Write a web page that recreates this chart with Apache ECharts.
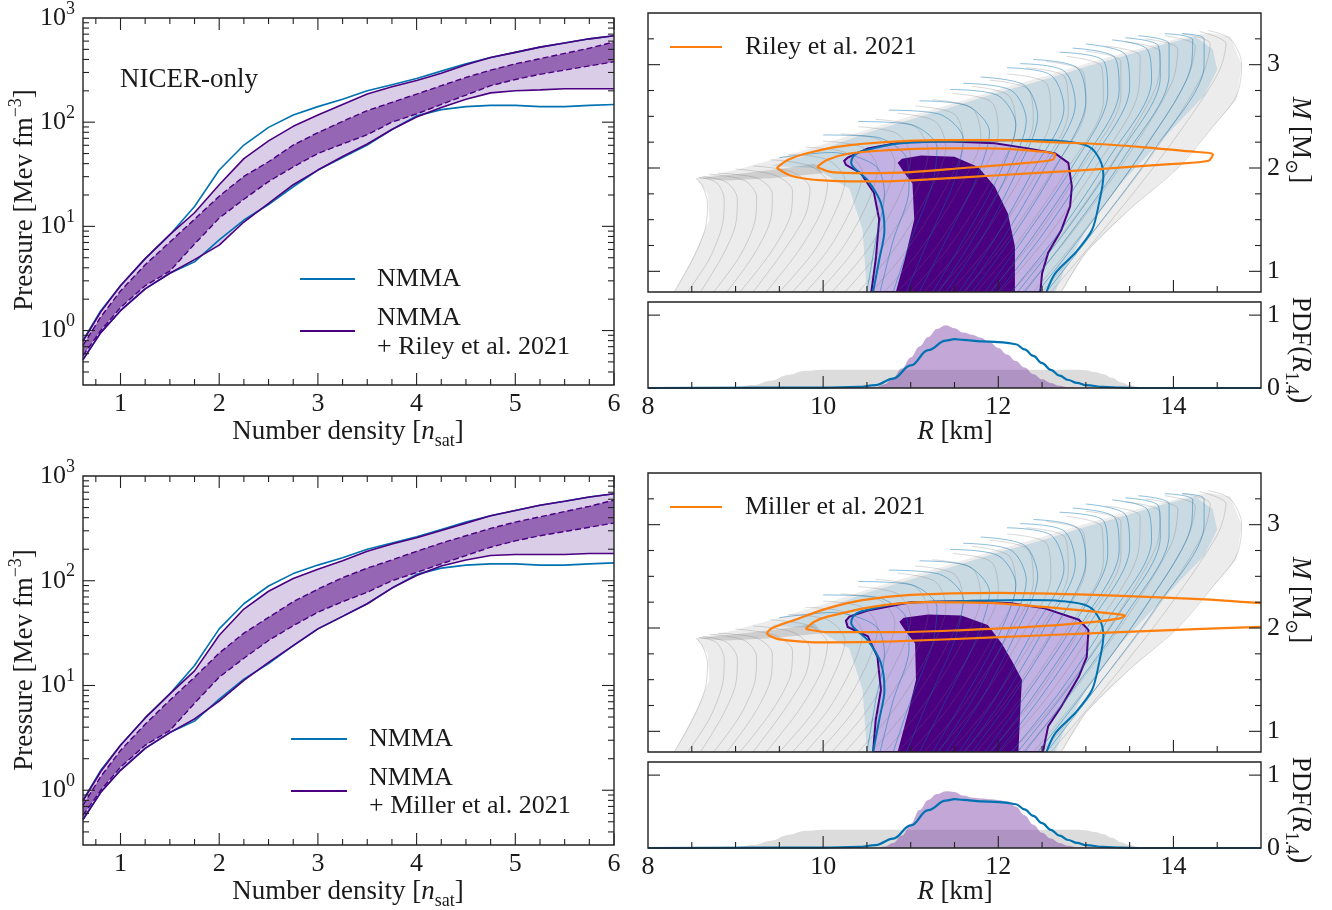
<!DOCTYPE html>
<html lang="en">
<head>
<meta charset="UTF-8">
<title>NMMA NICER</title>
<script src="https://cdn.jsdelivr.net/npm/echarts@6.0.0/dist/echarts.min.js"></script>
<style>html,body{margin:0;background:#fff}</style>
</head>
<body>
<div id="main" style="width:1332px;height:910px;"></div>
<script type="text/javascript">

// ---------- equation of state panels (pressure vs number density) ----------
var nDens = [0.62,0.8,1.0,1.25,1.5,1.75,2.0,2.25,2.5,2.75,3.0,3.25,3.5,3.75,4.0,4.25,4.5,4.75,5.0,5.25,5.5,5.75,6.0];

var nmmaHi = [0.81,1.55,2.69,4.90,8.32,15.5,34.7,60.3,89.1,117,141,166,200,229,263,309,363,417,468,525,575,631,676];
var nmmaLo = [0.525,0.955,1.55,2.51,3.55,4.57,7.41,11.5,16.2,24.0,34.7,45.7,60.3,85.1,115,132,141,145,145,141,141,145,148];

var rileyHi95 = [0.79,1.51,2.69,4.90,8.32,13.5,25.1,44.7,66.1,91.2,117,148,186,219,251,295,355,417,468,525,575,631,676];
var rileyHi68 = [0.72,1.35,2.40,4.27,7.08,11.7,19.5,30.2,41.7,60.3,79.4,102,129,155,186,224,269,316,363,407,457,513,589];
var rileyLo68 = [0.575,1.0,1.66,2.69,3.72,6.76,12.0,18.2,26.9,37.2,50.1,61.7,75.9,100,120,148,182,224,257,288,316,347,380];
var rileyLo95 = [0.525,0.955,1.55,2.51,3.55,4.79,6.61,11.0,16.6,25.1,34.7,46.8,61.7,85.1,112,138,166,191,200,204,209,209,209];

var millerHi95 = [0.79,1.51,2.69,4.90,8.32,13.8,30.2,53.7,79.4,105,129,155,191,224,257,302,355,417,468,525,575,631,676];
var millerHi68 = [0.72,1.35,2.40,4.27,7.24,12.0,20.4,31.6,44.7,63.1,83.2,107,132,158,191,229,269,316,363,407,457,513,589];
var millerLo68 = [0.575,1.0,1.66,2.69,3.72,6.76,12.0,18.2,26.9,37.2,50.1,63.1,77.6,100,120,145,174,209,240,269,295,324,355];
var millerLo95 = [0.525,0.955,1.55,2.51,3.55,4.79,7.08,11.2,16.6,24.0,34.7,45.7,60.3,85.1,112,138,158,174,178,178,178,182,182];

// ---------- mass-radius panels ([R km, M Msun]) ----------
var grayEnvelope = [[8.3,0.8],[8.55,1.2],[8.7,1.5],[8.68,1.75],[8.55,1.9],[9.0,1.98],[9.5,2.1],[10.0,2.23],[10.5,2.37],[11.0,2.5],[11.5,2.63],[12.0,2.76],[12.5,2.88],[13.0,3.01],[13.5,3.13],[14.0,3.24],[14.4,3.31],[14.65,3.27],[14.78,3.0],[14.72,2.66],[14.45,2.4],[14.05,2.0],[13.5,1.6],[13.0,1.18],[12.72,0.8]];
var grayStreak = [[8.55,1.9],[9.0,1.94],[9.5,1.99],[9.9,2.04],[10.0,1.95],[9.4,1.9],[8.9,1.88]];
var grayCurves = [
  [[8.3,0.8],[8.5,1.1],[8.65,1.4],[8.68,1.65],[8.62,1.83],[8.55,1.9]],
  [[8.45,0.8],[8.7,1.12],[8.85,1.45],[8.87,1.7],[8.78,1.86],[8.58,1.91]],
  [[8.6,0.8],[8.85,1.15],[9.0,1.45],[9.02,1.7],[8.9,1.86],[8.62,1.92]],
  [[8.75,0.8],[9.05,1.15],[9.22,1.48],[9.24,1.72],[9.1,1.88],[8.7,1.94]],
  [[8.9,0.8],[9.2,1.15],[9.4,1.5],[9.42,1.75],[9.25,1.9],[8.8,1.95]],
  [[9.05,0.8],[9.4,1.18],[9.62,1.52],[9.65,1.78],[9.45,1.93],[9.0,1.99]],
  [[9.2,0.8],[9.55,1.2],[9.8,1.55],[9.85,1.8],[9.65,1.96],[9.2,2.02]],
  [[9.35,0.8],[9.72,1.2],[9.98,1.58],[10.05,1.85],[9.85,2.02],[9.4,2.08]],
  [[9.5,0.8],[9.9,1.2],[10.15,1.6],[10.25,1.88],[10.05,2.08],[9.6,2.13]],
  [[9.65,0.8],[10.05,1.2],[10.33,1.62],[10.45,1.95],[10.25,2.15],[9.8,2.2]],
  [[9.8,0.8],[10.2,1.2],[10.5,1.65],[10.62,2.0],[10.45,2.2],[10.0,2.26]],
  [[9.95,0.8],[10.35,1.2],[10.68,1.68],[10.82,2.05],[10.65,2.27],[10.2,2.33]],
  [[10.1,0.8],[10.5,1.2],[10.85,1.7],[11.0,2.1],[10.85,2.33],[10.4,2.4]],
  [[10.25,0.8],[10.65,1.2],[11.03,1.72],[11.2,2.15],[11.05,2.4],[10.6,2.47]],
  [[10.4,0.8],[10.8,1.2],[11.2,1.75],[11.4,2.2],[11.28,2.45],[10.85,2.53]],
  [[10.55,0.8],[10.95,1.2],[11.38,1.78],[11.6,2.25],[11.5,2.52],[11.05,2.6]],
  [[10.7,0.8],[11.1,1.2],[11.55,1.8],[11.8,2.3],[11.7,2.58],[11.25,2.66]],
  [[10.85,0.8],[11.28,1.22],[11.72,1.82],[12.0,2.35],[11.92,2.64],[11.48,2.72]],
  [[11.0,0.8],[11.45,1.25],[11.9,1.85],[12.2,2.4],[12.12,2.7],[11.7,2.79]],
  [[11.15,0.8],[11.6,1.25],[12.08,1.88],[12.4,2.45],[12.34,2.76],[11.9,2.85]],
  [[11.3,0.8],[11.75,1.25],[12.25,1.9],[12.6,2.5],[12.55,2.82],[12.1,2.91]],
  [[11.45,0.8],[11.9,1.25],[12.42,1.92],[12.8,2.55],[12.76,2.88],[12.32,2.97]],
  [[11.6,0.8],[12.05,1.25],[12.6,1.95],[13.0,2.6],[12.97,2.93],[12.55,3.03]],
  [[11.75,0.8],[12.22,1.28],[12.78,1.98],[13.2,2.65],[13.18,2.98],[12.78,3.08]],
  [[11.9,0.8],[12.4,1.3],[12.95,2.0],[13.4,2.7],[13.4,3.03],[13.0,3.13]],
  [[12.02,0.8],[12.55,1.32],[13.12,2.02],[13.6,2.74],[13.62,3.08],[13.22,3.18]],
  [[12.15,0.8],[12.7,1.33],[13.3,2.05],[13.8,2.78],[13.85,3.12],[13.45,3.22]],
  [[12.28,0.8],[12.82,1.35],[13.45,2.08],[13.98,2.82],[14.05,3.15],[13.68,3.25]],
  [[12.4,0.8],[12.95,1.36],[13.6,2.1],[14.15,2.85],[14.25,3.18],[13.9,3.28]],
  [[12.5,0.8],[13.08,1.38],[13.75,2.12],[14.32,2.88],[14.42,3.2],[14.1,3.3]],
  [[12.6,0.8],[13.2,1.4],[13.9,2.15],[14.5,2.9],[14.6,3.2],[14.3,3.32]],
  [[12.72,0.8],[13.0,1.18],[13.5,1.6],[14.05,2.0],[14.45,2.4],[14.72,2.7],[14.78,3.0],[14.65,3.25],[14.4,3.33]]
];
var blueEnvelope = [[10.5,0.8],[10.45,1.4],[10.3,1.8],[9.9,2.0],[9.4,2.02],[9.8,2.12],[10.5,2.34],[11.0,2.47],[11.5,2.6],[12.0,2.73],[12.5,2.85],[13.0,2.98],[13.5,3.1],[13.9,3.2],[14.25,3.27],[14.45,3.15],[14.5,2.95],[14.35,2.7],[13.9,2.3],[13.4,1.85],[13.0,1.4],[12.75,1.0],[12.65,0.8]];
var blueCurves = [
  [[10.5,0.8],[10.6,1.3],[10.7,1.75],[10.6,2.02],[10.1,2.15],[9.5,2.1]],
  [[10.65,0.8],[10.8,1.3],[10.98,1.8],[10.95,2.1],[10.6,2.3],[10.0,2.32]],
  [[10.8,0.8],[11.0,1.3],[11.25,1.85],[11.3,2.2],[11.0,2.42],[10.4,2.45]],
  [[10.95,0.8],[11.2,1.3],[11.5,1.88],[11.6,2.28],[11.33,2.52],[10.75,2.56]],
  [[11.1,0.8],[11.4,1.3],[11.75,1.9],[11.9,2.35],[11.65,2.6],[11.1,2.65]],
  [[11.25,0.8],[11.6,1.3],[12.0,1.92],[12.2,2.42],[12.0,2.7],[11.45,2.76]],
  [[11.32,0.8],[11.7,1.3],[12.1,1.94],[12.32,2.46],[12.15,2.75],[11.6,2.82]],
  [[11.4,0.8],[11.8,1.3],[12.2,1.95],[12.45,2.5],[12.3,2.8],[11.8,2.88]],
  [[11.55,0.8],[11.95,1.3],[12.4,1.98],[12.75,2.58],[12.6,2.9],[12.1,2.97]],
  [[11.62,0.8],[12.05,1.31],[12.52,1.99],[12.88,2.62],[12.75,2.94],[12.25,3.01]],
  [[11.7,0.8],[12.15,1.32],[12.65,2.0],[13.0,2.65],[12.9,2.97],[12.4,3.05]],
  [[11.85,0.8],[12.3,1.33],[12.85,2.02],[13.25,2.72],[13.2,3.04],[12.7,3.12]],
  [[11.92,0.8],[12.4,1.34],[12.95,2.04],[13.38,2.75],[13.33,3.07],[12.85,3.16]],
  [[12.0,0.8],[12.5,1.35],[13.05,2.05],[13.5,2.78],[13.45,3.1],[13.0,3.2]],
  [[12.15,0.8],[12.7,1.38],[13.25,2.08],[13.75,2.85],[13.7,3.15],[13.3,3.24]],
  [[12.22,0.8],[12.77,1.39],[13.35,2.1],[13.85,2.88],[13.83,3.18],[13.45,3.26]],
  [[12.3,0.8],[12.85,1.4],[13.45,2.12],[13.95,2.9],[13.95,3.2],[13.6,3.28]],
  [[12.45,0.8],[13.0,1.4],[13.65,2.17],[14.2,2.98],[14.22,3.24],[13.9,3.3]],
  [[12.55,0.8],[13.1,1.4],[13.8,2.2],[14.35,3.0],[14.35,3.25],[14.1,3.3]]
];
var nmmaMR95 = [[10.57,0.8],[10.64,1.11],[10.70,1.40],[10.66,1.66],[10.51,1.88],[10.32,2.05],[10.35,2.12],[10.43,2.16],[10.89,2.24],[11.58,2.26],[12.34,2.27],[12.72,2.26],[13.03,2.21],[13.16,2.08],[13.20,1.92],[13.15,1.66],[13.07,1.40],[12.88,1.18],[12.65,0.98],[12.55,0.8]];

var rileyMR95 = [[10.55,0.8],[10.60,1.11],[10.64,1.50],[10.58,1.76],[10.43,1.95],[10.26,2.03],[10.24,2.07],[10.28,2.10],[10.51,2.19],[10.89,2.25],[11.39,2.26],[11.96,2.24],[12.34,2.19],[12.65,2.14],[12.80,2.05],[12.84,1.82],[12.82,1.63],[12.72,1.40],[12.57,1.18],[12.50,0.98],[12.48,0.8]];
var rileyMR68 = [[10.83,0.8],[10.93,1.11],[11.04,1.50],[11.02,1.85],[10.93,1.95],[10.85,2.05],[10.9,2.09],[11.12,2.12],[11.5,2.11],[11.77,2.01],[11.96,1.82],[12.11,1.56],[12.19,1.24],[12.19,0.8]];
var rileyOuter = [[9.47,2.0],[9.6,2.08],[9.85,2.15],[10.2,2.21],[10.7,2.25],[11.3,2.27],[12.0,2.27],[12.6,2.25],[13.2,2.23],[13.8,2.19],[14.2,2.16],[14.45,2.13],[14.4,2.07],[14.0,2.04],[13.5,2.01],[12.8,1.97],[12.0,1.93],[11.2,1.89],[10.6,1.87],[10.0,1.88],[9.65,1.92],[9.47,2.0]];
var rileyInner = [[9.93,2.01],[10.05,2.08],[10.3,2.14],[10.7,2.17],[11.3,2.19],[11.9,2.19],[12.35,2.17],[12.65,2.13],[12.62,2.08],[12.2,2.04],[11.6,2.0],[11.0,1.96],[10.5,1.95],[10.1,1.96],[9.93,2.01]];

var millerMR95 = [[10.57,0.8],[10.60,1.11],[10.66,1.40],[10.62,1.72],[10.51,1.92],[10.28,2.01],[10.26,2.07],[10.30,2.11],[10.51,2.17],[11.0,2.25],[11.58,2.26],[12.15,2.24],[12.53,2.19],[12.92,2.08],[13.03,1.98],[13.01,1.72],[12.92,1.53],[12.72,1.24],[12.57,1.05],[12.51,0.8]];
var millerMR68 = [[10.85,0.8],[10.97,1.18],[11.06,1.50],[11.05,1.85],[10.95,1.96],[10.87,2.06],[10.92,2.1],[11.2,2.13],[11.58,2.12],[11.88,2.03],[12.04,1.85],[12.15,1.69],[12.27,1.50],[12.25,1.18],[12.23,0.8]];
var millerOuter = [[15.0,2.24],[14.3,2.28],[13.1,2.32],[12.0,2.34],[11.0,2.32],[10.45,2.27],[10.05,2.19],[9.68,2.08],[9.42,2.0],[9.36,1.95],[9.5,1.89],[10.05,1.86],[10.8,1.87],[11.95,1.91],[13.1,1.95],[14.25,1.99],[15.0,2.01]];
var millerInner = [[9.8,1.99],[9.9,2.06],[10.05,2.11],[10.6,2.21],[11.2,2.25],[11.95,2.24],[12.7,2.19],[13.3,2.14],[13.45,2.12],[13.37,2.09],[13.1,2.06],[12.35,2.01],[11.6,1.98],[10.8,1.96],[10.05,1.96],[9.8,1.99]];

// ---------- R_1.4 PDFs ----------
var priorR   = [8.0,8.8,9.0,9.2,9.4,9.6,9.8,10.0,10.5,11.0,11.5,12.0,12.5,12.9,13.0,13.1,13.2,13.3,13.4,13.5,13.6,13.8,15.0];
var priorPdf = [0,0,0.01,0.04,0.1,0.18,0.235,0.25,0.25,0.25,0.25,0.25,0.25,0.25,0.245,0.22,0.19,0.14,0.08,0.04,0.015,0,0];
var postR      = [10.4,10.6,10.7,10.8,10.9,11.0,11.1,11.2,11.3,11.4,11.5,11.6,11.7,11.8,11.9,12.0,12.1,12.2,12.3,12.4,12.5,12.6,12.7,12.8,12.9,13.1];
var rileyPdf   = [0,0.01,0.05,0.14,0.27,0.42,0.57,0.70,0.81,0.86,0.82,0.76,0.73,0.69,0.63,0.55,0.46,0.37,0.28,0.19,0.12,0.07,0.03,0.01,0,0];
var millerPdf  = [0,0,0.02,0.07,0.17,0.33,0.52,0.66,0.74,0.78,0.77,0.72,0.69,0.68,0.67,0.66,0.64,0.57,0.45,0.32,0.21,0.13,0.07,0.03,0.01,0];
var nmmaR   = [8.0,10.0,10.4,10.6,10.8,11.0,11.2,11.4,11.5,11.6,11.8,12.0,12.1,12.2,12.3,12.4,12.5,12.6,12.7,12.8,12.9,13.0,13.2,13.4,13.6,15.0];
var nmmaPdf = [0,0.005,0.015,0.04,0.13,0.31,0.52,0.65,0.67,0.66,0.64,0.63,0.62,0.60,0.53,0.44,0.34,0.25,0.17,0.11,0.07,0.04,0.015,0.005,0,0];

// ---------- ticks ----------
var eosXMajor = [1,2,3,4,5,6];
var eosXMinor = [0.75,1.25,1.5,1.75,2.25,2.5,2.75,3.25,3.5,3.75,4.25,4.5,4.75,5.25,5.5,5.75];
var eosYMajor = [1,10,100];
var eosYMinor = [0.4,0.5,0.6,0.7,0.8,0.9,2,3,4,5,6,7,8,9,20,30,40,50,60,70,80,90,200,300,400,500,600,700,800,900];
var rXMajor = [10,12,14];
var rXMinor = [8.5,9,9.5,10.5,11,11.5,12.5,13,13.5,14.5];
var mYMajor = [1,2,3];
var mYMinor = [1.25,1.5,1.75,2.25,2.5,2.75,3.25];
var pdfYMajor = [1];

var BLUE = '#0072b2', PURPLE = '#4b0082', ORANGE = '#ff7f0e';
var F = "'Liberation Serif', 'DejaVu Serif', serif";
var TXT = '#1a1a1a';
var FS = 26;

var chart = echarts.init(document.getElementById('main'));

var grids = [
  {left: 83, top: 16, width: 531, height: 369},
  {left: 648, top: 13, width: 613, height: 279},
  {left: 648, top: 302, width: 613, height: 86},
  {left: 83, top: 476, width: 531, height: 369},
  {left: 648, top: 473, width: 613, height: 279},
  {left: 648, top: 762, width: 613, height: 86}
];

function isInt(v) { return Math.abs(v - Math.round(v)) < 1e-9; }
var lbl = {fontSize: FS, fontFamily: F, color: TXT};
var noLine = {show: false}, noTick = {show: false}, noSplit = {show: false};

function eosX(gi) {
  return {gridIndex: gi, type: 'value', min: 0.62, max: 6, axisLine: noLine, axisTick: noTick, splitLine: noSplit,
    axisLabel: Object.assign({margin: 6, formatter: function (v) { return isInt(v) ? String(Math.round(v)) : ''; }}, lbl)};
}
function eosY(gi) {
  return {gridIndex: gi, type: 'log', logBase: 10, min: 0.3, max: 1000, axisLine: noLine, axisTick: noTick, splitLine: noSplit,
    axisLabel: {margin: 8, formatter: function (v) {
      var e = Math.round(Math.log10(v));
      if (Math.abs(Math.log10(v) - e) > 1e-6) return '';
      return '{b|10}{s|' + e + '}';
    }, rich: {
      b: {fontSize: FS, fontFamily: F, color: TXT, lineHeight: 36},
      s: {fontSize: 18, fontFamily: F, color: TXT, lineHeight: 18, verticalAlign: 'top'}
    }}};
}
function rX(gi, show) {
  return {gridIndex: gi, type: 'value', min: 8, max: 15, interval: 2, axisLine: noLine, axisTick: noTick, splitLine: noSplit,
    axisLabel: Object.assign({show: show, margin: 6, formatter: function (v) { return (v % 2 === 0) ? String(v) : ''; }}, lbl)};
}
function mY(gi) {
  return {gridIndex: gi, type: 'value', position: 'right', min: 0.8, max: 3.5, splitNumber: 3, axisLine: noLine, axisTick: noTick, splitLine: noSplit,
    axisLabel: Object.assign({margin: 6, formatter: function (v) { return isInt(v) ? String(Math.round(v)) : ''; }}, lbl)};
}
function pdfY(gi) {
  return {gridIndex: gi, type: 'value', position: 'right', min: 0, max: 1.18, interval: 1, axisLine: noLine, axisTick: noTick, splitLine: noSplit,
    axisLabel: Object.assign({margin: 6, formatter: function (v) { return (v === 0 || v === 1) ? String(v) : ''; }}, lbl)};
}

var xAxes = [eosX(0), rX(1, false), rX(2, true), eosX(3), rX(4, false), rX(5, true)];
var yAxes = [eosY(0), mY(1), pdfY(2), eosY(3), mY(4), pdfY(5)];

var series = [];
function zip(xs, ys) { return xs.map(function (x, i) { return [x, ys[i]]; }); }
function band(xs, hi, lo) { return zip(xs, hi).concat(zip(xs, lo).reverse()); }

function addLine(gi, pts, color, width, extra) {
  var s = {type: 'line', xAxisIndex: gi, yAxisIndex: gi, data: pts, showSymbol: false, symbol: 'none',
    silent: true, animation: false, lineStyle: {color: color, width: width}};
  series.push(Object.assign(s, extra || {}));
}
function addPoly(gi, pts, style) {
  series.push({type: 'custom', xAxisIndex: gi, yAxisIndex: gi, silent: true, animation: false, clip: true,
    data: [pts[0]],
    renderItem: function (params, api) {
      return {type: 'polygon', shape: {points: pts.map(function (p) { return api.coord(p); })}, style: style};
    }});
}
function addTicks(gi, xRef, yRef, xMaj, xMin, yMaj, yMin, sides) {
  series.push({type: 'custom', xAxisIndex: gi, yAxisIndex: gi, silent: true, animation: false, clip: false, z: 10,
    data: [[xRef, yRef]],
    renderItem: function (params, api) {
      var cs = params.coordSys, kids = [];
      var L = cs.x, R = cs.x + cs.width, T = cs.y, B = cs.y + cs.height;
      function seg(x1, y1, x2, y2) {
        kids.push({type: 'line', shape: {x1: x1, y1: y1, x2: x2, y2: y2}, style: {stroke: '#222', lineWidth: 1.1}});
      }
      function xt(list, len) {
        list.forEach(function (v) {
          var px = api.coord([v, yRef])[0];
          if (sides.indexOf('b') >= 0) seg(px, B, px, B - len);
          if (sides.indexOf('t') >= 0) seg(px, T, px, T + len);
        });
      }
      function yt(list, len) {
        list.forEach(function (v) {
          var py = api.coord([xRef, v])[1];
          if (sides.indexOf('l') >= 0) seg(L, py, L + len, py);
          if (sides.indexOf('r') >= 0) seg(R, py, R - len, py);
        });
      }
      xt(xMaj, 12); xt(xMin, 6); yt(yMaj, 12); yt(yMin, 6);
      kids.push({type: 'rect', shape: {x: L, y: T, width: cs.width, height: cs.height},
        style: {fill: 'none', stroke: '#222', lineWidth: 1.4}});
      return {type: 'group', children: kids};
    }});
}

function eosPanel(gi, hi95, hi68, lo68, lo95) {
  addPoly(gi, band(nDens, hi95, lo95), {fill: '#dacde7'});
  addPoly(gi, band(nDens, hi68, lo68), {fill: '#9466b4'});
  addLine(gi, zip(nDens, nmmaHi), BLUE, 1.6);
  addLine(gi, zip(nDens, nmmaLo), BLUE, 1.6);
  addLine(gi, zip(nDens, hi95), PURPLE, 1.6);
  addLine(gi, zip(nDens, lo95), PURPLE, 1.6);
  addLine(gi, zip(nDens, hi68), PURPLE, 1.4, {lineStyle: {color: PURPLE, width: 1.4, type: [6, 3]}});
  addLine(gi, zip(nDens, lo68), PURPLE, 1.4, {lineStyle: {color: PURPLE, width: 1.4, type: [6, 3]}});
  addTicks(gi, 1, 1, eosXMajor, eosXMinor, eosYMajor, eosYMinor, 'btlr');
}

function mrPanel(gi, mr95, mr68, outer, inner) {
  addPoly(gi, grayEnvelope, {fill: 'rgba(160,160,160,0.2)'});
  addPoly(gi, grayStreak, {fill: 'rgba(100,100,100,0.22)'});
  grayCurves.forEach(function (c) { addLine(gi, c, 'rgba(115,115,115,0.3)', 0.9, {smooth: 0.3}); });
  addPoly(gi, blueEnvelope, {fill: 'rgba(0,114,178,0.14)'});
  blueCurves.forEach(function (c) { addLine(gi, c, 'rgba(0,114,178,0.5)', 0.9, {smooth: 0.3}); });
  addPoly(gi, mr95, {fill: 'rgba(185,145,228,0.55)', stroke: PURPLE, lineWidth: 2});
  addPoly(gi, mr68, {fill: PURPLE});
  addLine(gi, nmmaMR95, BLUE, 2, {smooth: 0.3});
  addLine(gi, outer, ORANGE, 2.2, {smooth: 0.3});
  addLine(gi, inner, ORANGE, 2.2, {smooth: 0.3});
  addTicks(gi, 10, 2, rXMajor, rXMinor, mYMajor, mYMinor, 'blr');
}

function pdfPanel(gi, post) {
  addLine(gi, zip(priorR, priorPdf), '#000', 0,
    {smooth: 0.4, smoothMonotone: 'x', lineStyle: {width: 0, opacity: 0}, areaStyle: {color: 'rgba(190,190,190,0.78)'}});
  addLine(gi, zip(postR, post), '#000', 0,
    {smooth: 0.4, smoothMonotone: 'x', lineStyle: {width: 0, opacity: 0}, areaStyle: {color: 'rgba(112,48,160,0.6)'}});
  addLine(gi, zip(nmmaR, nmmaPdf), BLUE, 2.2, {smooth: 0.4, smoothMonotone: 'x'});
  addTicks(gi, 10, 0.5, rXMajor, rXMinor, pdfYMajor, [], 'blr');
}

eosPanel(0, rileyHi95, rileyHi68, rileyLo68, rileyLo95);
mrPanel(1, rileyMR95, rileyMR68, rileyOuter, rileyInner);
pdfPanel(2, rileyPdf);
eosPanel(3, millerHi95, millerHi68, millerLo68, millerLo95);
mrPanel(4, millerMR95, millerMR68, millerOuter, millerInner);
pdfPanel(5, millerPdf);

// ---------- texts ----------
var RICH = {
  t: {fontSize: 27, fontFamily: F, fill: TXT, lineHeight: 36},
  g: {fontSize: 26, fontFamily: F, fill: TXT, lineHeight: 36},
  i: {fontSize: 27, fontFamily: F, fontStyle: 'italic', fill: TXT, lineHeight: 36},
  sub: {fontSize: 18, fontFamily: F, fill: TXT, lineHeight: 18, verticalAlign: 'bottom'},
  sup: {fontSize: 18, fontFamily: F, fill: TXT, lineHeight: 18, verticalAlign: 'top'}
};
function txt(x, y, text, align, rot) {
  return {type: 'text', x: x, y: y, rotation: rot || 0, z: 20,
    style: {text: text, rich: RICH, fontSize: 26, fontFamily: F, fill: TXT, align: align || 'left', verticalAlign: 'middle'}};
}
function seg(x1, y1, x2, y2, color) {
  return {type: 'line', z: 20, shape: {x1: x1, y1: y1, x2: x2, y2: y2}, style: {stroke: color, lineWidth: 2}};
}

var graphics = [
  txt(120, 80, '{t|NICER-only}'),
  seg(300, 279, 355, 279, BLUE), txt(377, 279, '{g|NMMA}'),
  seg(300, 331, 355, 331, PURPLE), txt(377, 318, '{g|NMMA}'), txt(377, 347, '{g|+ Riley et al. 2021}'),
  seg(291, 739, 347, 739, BLUE), txt(369, 739, '{g|NMMA}'),
  seg(291, 791, 347, 791, PURPLE), txt(369, 778, '{g|NMMA}'), txt(369, 806, '{g|+ Miller et al. 2021}'),
  seg(670, 47, 722, 47, ORANGE), txt(745, 47, '{g|Riley et al. 2021}'),
  seg(670, 507, 722, 507, ORANGE), txt(745, 507, '{g|Miller et al. 2021}')
];
[0, 460].forEach(function (dy) {
  graphics.push(txt(25, 200 + dy, '{t|Pressure [Mev fm}{sup|\u22123}{t|]}', 'center', Math.PI / 2));
  graphics.push(txt(348, 432 + dy, '{t|Number density [}{i|n}{sub|sat}{t|]}', 'center'));
  graphics.push(txt(955, 432 + dy, '{i|R}{t| [km]}', 'center'));
  graphics.push(txt(1300, 140 + dy, '{i|M}{t| [M}{sub|\u2299}{t|]}', 'center', -Math.PI / 2));
  graphics.push(txt(1300, 350 + dy, '{t|PDF(}{i|R}{sub|1.4}{t|)}', 'center', -Math.PI / 2));
});

var option = {
  animation: false,
  backgroundColor: '#fff',
  grid: grids,
  xAxis: xAxes,
  yAxis: yAxes,
  series: series,
  graphic: graphics
};
chart.setOption(option);

</script>
</body>
</html>
